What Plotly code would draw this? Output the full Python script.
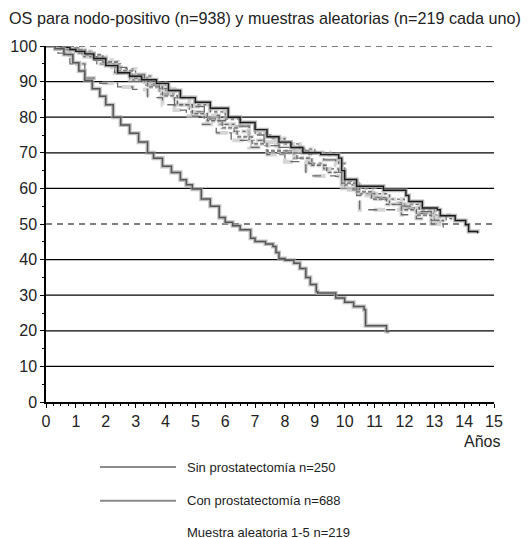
import plotly.graph_objects as go

# ---------------- data ----------------
title_text = "OS para nodo-positivo (n=938) y muestras aleatorias (n=219 cada uno)"
x_ticks = list(range(0, 16))
y_ticks = list(range(0, 101, 10))
solid_grid = [10, 20, 30, 40, 60, 70, 80, 90]
dashed_grid = [50, 100]

sin_t = [0, 0.3, 0.6, 0.9, 1.1, 1.3, 1.55, 1.8, 2.0, 2.25, 2.5, 2.8, 3.1, 3.4, 3.6, 3.9,
         4.2, 4.5, 4.7, 4.9, 5.2, 5.5, 5.8, 6.0, 6.25, 6.5, 6.85, 7.0, 7.35, 7.6, 7.7, 7.8,
         8.0, 8.3, 8.5, 8.7, 8.85, 9.05, 9.1, 9.55, 9.7, 10.0, 10.3, 10.65, 10.7, 11.35, 11.4, 11.5]
sin_s = [100, 99.2, 97.6, 95.3, 93.0, 90.3, 88.0, 85.9, 83.5, 80.0, 77.8, 75.5, 73.0, 70.0, 68.5, 66.2,
         64.5, 62.4, 61.0, 59.8, 57.0, 55.0, 51.8, 50.5, 49.5, 48.4, 46.0, 45.1, 44.4, 43.7, 42.0, 40.3,
         39.8, 39.0, 37.5, 35.0, 33.0, 31.0, 30.6, 30.6, 29.2, 28.0, 26.8, 25.9, 21.4, 21.4, 19.8, 19.8]

con_t = [0, 0.5, 0.8, 1.0, 1.3, 1.6, 2.0, 2.4, 2.8, 3.2, 3.7, 4.1, 4.5, 5.0, 5.5, 6.1, 6.5, 7.0,
         7.4, 7.8, 8.2, 8.6, 9.2, 9.8, 9.9, 10.0, 10.4, 11.3, 12.05, 12.15, 12.6, 13.1, 13.2, 13.7,
         14.05, 14.15, 14.45]
con_s = [100, 99.6, 99.0, 98.5, 97.8, 96.5, 94.5, 92.5, 91.5, 90.5, 89.5, 87.5, 85.5, 84.2, 82.5, 80.0, 78.5, 76.5,
         74.5, 73.0, 71.5, 70.0, 69.5, 68.5, 65.0, 62.5, 60.6, 59.5, 58.0, 56.3, 54.5, 54.0, 52.3, 51.0,
         49.8, 47.9, 47.4]

m1_t = [0, 0.5, 1.0, 1.5, 2.0, 2.5, 3.0, 3.5, 4.0, 4.5, 5.0, 5.5, 6.0, 6.5, 7.0, 7.5, 8.0, 8.5, 9.0,
        9.5, 9.8, 10.0, 10.5, 11.0, 11.5, 12.0, 12.5, 13.0, 13.5, 13.6]
m1_s = [100, 99.5, 98.5, 97, 95, 93.5, 91.5, 89.5, 87.5, 85.5, 83.5, 81.5, 79.5, 77.5, 75.5, 74, 72.5, 71, 70,
        69.5, 67, 62, 60, 58.5, 57, 55.5, 54, 52.5, 51.5, 51.5]
m2_t = [0, 0.4, 0.8, 1.3, 1.8, 2.4, 2.9, 3.4, 3.9, 4.3, 4.7, 5.2, 5.7, 6.2, 6.8, 7.4, 8.0, 8.7, 9.7,
        10.0, 10.5, 11.4, 11.9, 12.4, 12.9, 13.3]
m2_s = [100, 98, 95, 91, 89.5, 88.5, 87.8, 85.5, 83.5, 82, 80.3, 78, 75.6, 73.5, 71.5, 69.5, 67.5, 63.5, 63.4,
        59.6, 54.0, 54.0, 52.6, 51.5, 50.0, 49.0]
m3_t = [0, 0.6, 1.2, 1.7, 2.3, 2.8, 3.3, 3.8, 4.3, 4.8, 5.3, 5.8, 6.3, 6.8, 7.3, 7.8, 8.3, 8.8, 9.3,
        9.8, 10.0, 10.5, 11.0, 11.5, 12.0, 12.5, 13.0, 13.3]
m3_s = [100, 99, 97, 95, 92.5, 90.5, 89, 86.5, 83.5, 81.5, 79.5, 78, 76, 73.5, 72, 70.5, 68.5, 67, 65.5,
        64.5, 61, 58.5, 57, 55.5, 54.5, 53, 51, 50]
m4_t = [0, 0.5, 1.1, 1.6, 2.2, 2.7, 3.3, 3.8, 4.3, 4.8, 5.3, 5.8, 6.3, 6.8, 7.3, 7.8, 8.3, 8.8, 9.3,
        9.7, 9.9, 10.4, 10.9, 11.4, 11.9, 12.4, 12.9, 13.4]
m4_s = [100, 99.5, 98, 96, 94, 92, 90, 88, 85.5, 83, 80.5, 79, 77.5, 75, 73, 71.5, 70.5, 69.5, 68,
        66.5, 60, 58, 57.5, 56, 55, 53.5, 52, 51]
m5_t = [0, 0.7, 1.3, 1.9, 2.4, 2.9, 3.4, 3.9, 4.4, 4.9, 5.4, 5.9, 6.4, 6.9, 7.4, 7.9, 8.4, 8.9, 9.4,
        9.9, 10.4, 10.9, 11.4, 11.9, 12.4, 12.9, 13.2]
m5_s = [100, 99, 97.5, 95.5, 93, 91, 88.5, 86, 83.5, 81, 79, 77, 74.5, 72.5, 70.5, 70, 68.5, 66.5, 64.5,
        61.5, 59, 57, 55.5, 54, 52.5, 51, 50.5]

legend_labels = ["Sin prostatectomía n=250", "Con prostatectomía n=688", "Muestra aleatoria 1-5 n=219"]

# ---------------- figure ----------------
W, H = 528, 538
ML, MR, MT, MB = 46, 34, 46, 136
FONT = "Liberation Sans, Arial, Helvetica, sans-serif"

fig = go.Figure()

def add_km(t, s, color, halo, width, dash, name):
    fig.add_trace(go.Scatter(x=t, y=s, mode="lines", line=dict(color=halo, width=width + 2.6, shape="hv", dash=dash),
                             showlegend=False, hoverinfo="skip", cliponaxis=False, opacity=0.7))
    fig.add_trace(go.Scatter(x=t, y=s, mode="lines", line=dict(color=color, width=width, shape="hv", dash=dash),
                             name=name, showlegend=False, cliponaxis=False))

# random samples (gray, patterned)
add_km(m1_t, m1_s, "#6a6a6a", "#c4c4c4", 1.3, "dot", "Muestra 1")
add_km(m2_t, m2_s, "#6a6a6a", "#c4c4c4", 1.3, "dash", "Muestra 2")
add_km(m3_t, m3_s, "#6a6a6a", "#c4c4c4", 1.3, "dashdot", "Muestra 3")
add_km(m4_t, m4_s, "#6a6a6a", "#c4c4c4", 1.3, "longdash", "Muestra 4")
add_km(m5_t, m5_s, "#6a6a6a", "#c4c4c4", 1.3, "4px,2px", "Muestra 5")
# main curves
add_km(con_t, con_s, "#1a1a1a", "#9a9a9a", 1.4, "solid", legend_labels[1])
add_km(sin_t, sin_s, "#555555", "#a8a8a8", 1.5, "solid", legend_labels[0])

# gridlines
for g in solid_grid:
    fig.add_shape(type="line", xref="x", yref="y", x0=0, x1=15, y0=g, y1=g,
                  line=dict(color="black", width=1.3), layer="below")
for g in dashed_grid:
    fig.add_shape(type="line", xref="x", yref="y", x0=0, x1=15, y0=g, y1=g,
                  line=dict(color="black", width=1.1, dash="6px,5px"), layer="below")

pw = W - ML - MR
ph = H - MT - MB

def px_to_paper_x(px):
    return (px - ML) / pw

def px_to_paper_y(py):
    return (H - MB - py) / ph

# manual legend
legend_rows_px = [467, 500.7, 532]
for i, lab in enumerate(legend_labels):
    yy = px_to_paper_y(legend_rows_px[i])
    if i < 2:
        fig.add_shape(type="line", xref="paper", yref="paper", x0=px_to_paper_x(100), x1=px_to_paper_x(176),
                      y0=yy, y1=yy, line=dict(color="#8a8a8a", width=2))
    fig.add_annotation(xref="paper", yref="paper", x=px_to_paper_x(185), y=yy, xanchor="left", yanchor="middle",
                       text=lab, showarrow=False, font=dict(family=FONT, size=13, color="#222"))

# axis title
fig.add_annotation(xref="paper", yref="paper", x=px_to_paper_x(502), y=px_to_paper_y(441), xanchor="right",
                   yanchor="middle", text="Años", showarrow=False, font=dict(family=FONT, size=16, color="#222"))

fig.update_layout(
    width=W, height=H,
    margin=dict(l=ML, r=MR, t=MT, b=MB, pad=0, autoexpand=False),
    paper_bgcolor="white", plot_bgcolor="white",
    font=dict(family=FONT, size=16, color="#222"),
    title=dict(text=title_text, x=9 / W, xanchor="left", y=1 - 18 / H, yanchor="middle",
               font=dict(family=FONT, size=16.2, color="#222"), automargin=False),
    showlegend=False,
)
fig.update_xaxes(range=[0, 15], tickvals=x_ticks, ticktext=[str(v) for v in x_ticks], automargin=False,
                 showgrid=False, zeroline=False, showline=True, linecolor="black", linewidth=1.5,
                 ticks="outside", ticklen=4, tickwidth=1.3, tickcolor="black",
                 minor=dict(dtick=0.25, tick0=0, ticks="outside", ticklen=2, tickcolor="black", tickwidth=1),
                 tickfont=dict(family=FONT, size=16, color="#222"), fixedrange=True)
fig.update_yaxes(range=[0, 100], tickvals=y_ticks, ticktext=[str(v) for v in y_ticks], automargin=False,
                 showgrid=False, zeroline=False, showline=True, linecolor="black", linewidth=1.5,
                 ticks="outside", ticklen=4, tickwidth=1.3, tickcolor="black",
                 minor=dict(dtick=5, tick0=0, ticks="outside", ticklen=2, tickcolor="black", tickwidth=1),
                 tickfont=dict(family=FONT, size=16, color="#222"), fixedrange=True)

fig.write_html("out.html", config={"displayModeBar": False},
               post_script="document.body.style.margin='0';document.body.style.overflow='hidden';")
